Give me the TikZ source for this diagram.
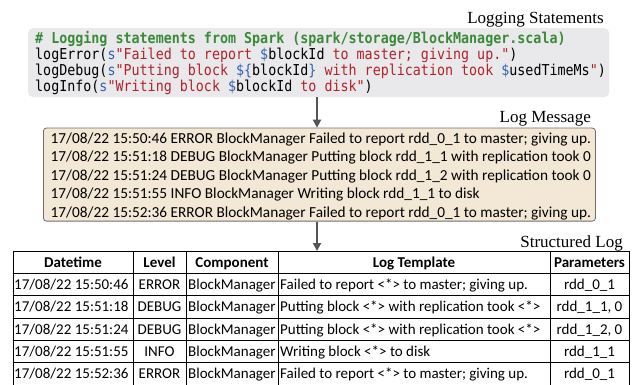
\documentclass[tikz,border=0pt]{standalone}
\usepackage{fontspec}
\setmainfont{Liberation Serif}
\newfontfamily\codefont[FakeStretch=0.89]{DejaVu Sans Mono}
\newfontfamily\calfont{Carlito}
\usetikzlibrary{arrows.meta}
\definecolor{cgreen}{HTML}{3A8A3A}
\definecolor{cblue}{HTML}{3362B0}
\definecolor{cred}{HTML}{B0232A}
\definecolor{codebg}{HTML}{E9E8EA}
\definecolor{logbg}{HTML}{F3E7D5}
\definecolor{logborder}{HTML}{6E6E6E}
\definecolor{arrowc}{HTML}{555555}
\newcommand{\cbl}[1]{\textcolor{cblue}{#1}}
\newcommand{\crd}[1]{\textcolor{cred}{#1}}
\begin{document}
\begin{tikzpicture}[x=1pt,y=-1pt,
  lbl/.style={inner sep=0pt,anchor=base east,font=\fontsize{17}{19}\selectfont},
  codeline/.style={inner sep=0pt,anchor=base west,font=\codefont\fontsize{15}{16}\selectfont},
  logline/.style={inner sep=0pt,anchor=base west,font=\calfont\fontsize{15.3}{17}\selectfont},
  cellL/.style={inner sep=0pt,anchor=base west,font=\calfont\fontsize{15}{17}\selectfont},
  cellC/.style={inner sep=0pt,anchor=base,font=\calfont\fontsize{15}{17}\selectfont},
  headC/.style={inner sep=0pt,anchor=base,font=\calfont\bfseries\fontsize{15}{17}\selectfont},
  flow/.style={draw=arrowc,line width=2.6pt,-{Triangle[length=8pt,width=8pt]}},
  tline/.style={draw=black,line width=0.9pt}]
\useasboundingbox (0,0) rectangle (634,385);

% boxes
\node[fill=codebg,rounded corners=5pt,inner sep=0pt,anchor=north west,minimum width=581pt,minimum height=69pt] (code) at (28,28) {};
\node[fill=logbg,draw=logborder,line width=0.8pt,rounded corners=3pt,inner sep=0pt,anchor=north west,minimum width=552pt,minimum height=93pt] (log) at (43,127.7) {};

% labels
\node[lbl] (lblA) at (604,24) {Logging Statements};
\node[lbl] (lblB) at (591,123) {Log Message};
\node[lbl] (lblC) at (623,247) {Structured Log};

% code
\node[codeline] (c1) at (35,43.5) {\bfseries\color{cgreen}\# Logging statements from Spark (spark/storage/BlockManager.scala)};
\node[codeline] (c2) at (35,59.5) {logError(\cbl{s}\crd{"Failed to report }\cbl{\$}blockId\crd{\ to master; giving up."})};
\node[codeline] (c3) at (35,75.5) {logDebug(\cbl{s}\crd{"Putting block }\cbl{\$\{}blockId\cbl{\}}\crd{\ with replication took }\cbl{\$}usedTimeMs\crd{"})};
\node[codeline] (c4) at (35,91.5) {logInfo(\cbl{s}\crd{"Writing block }\cbl{\$}blockId\crd{\ to disk"})};

% log lines
\node[logline] (m1) at (50.5,143) {17/08/22 15:50:46 ERROR BlockManager Failed to report rdd\_0\_1 to master; giving up.};
\node[logline] (m2) at (50.5,161.6) {17/08/22 15:51:18 DEBUG BlockManager Putting block rdd\_1\_1 with replication took 0};
\node[logline] (m3) at (50.5,180.2) {17/08/22 15:51:24 DEBUG BlockManager Putting block rdd\_1\_2 with replication took 0};
\node[logline] (m4) at (50.5,198.8) {17/08/22 15:51:55 INFO BlockManager Writing block rdd\_1\_1 to disk};
\node[logline] (m5) at (50.5,217.4) {17/08/22 15:52:36 ERROR BlockManager Failed to report rdd\_0\_1 to master; giving up.};

% table frame
\node[draw=black,line width=0.9pt,inner sep=0pt,anchor=north west,minimum width=616.3pt,minimum height=133.5pt] (tab) at (12.7,251) {};
\foreach \yy in {273.3,295.7,318,340.3,362.7} \draw[tline] (12.7,\yy) -- (629,\yy);
\foreach \xx in {133,186,278,550} \draw[tline] (\xx,251) -- (\xx,384.5);

% header
\node[headC] (h1) at (73,267) {Datetime};
\node[headC] (h2) at (159.5,267) {Level};
\node[headC] (h3) at (232,267) {Component};
\node[headC] (h4) at (414,267) {Log Template};
\node[headC] (h5) at (589.5,267) {Parameters};

% rows
\foreach \r/\d/\l/\t/\p [count=\i] in {
  289.5/15:50:46/ERROR/{Failed to report <*> to master; giving up.}/rdd\_0\_1,
  311.8/15:51:18/DEBUG/{Putting block <*> with replication took <*>}/{rdd\_1\_1, 0},
  334.2/15:51:24/DEBUG/{Putting block <*> with replication took <*>}/{rdd\_1\_2, 0},
  356.5/15:51:55/INFO/{Writing block <*> to disk}/rdd\_1\_1,
  378.8/15:52:36/ERROR/{Failed to report <*> to master; giving up.}/rdd\_0\_1}
{
  \node[cellL] (d\i) at (14,\r) {17/08/22 \d};
  \node[cellC] (v\i) at (159.5,\r) {\l};
  \node[cellL] (k\i) at (188,\r) {BlockManager};
  \node[cellL] (t\i) at (280,\r) {\t};
  \node[cellC] (p\i) at (589.5,\r) {\p};
}

% connectors
\coordinate (ax) at (317,0);
\draw[flow] (code.south -| ax) -- (log.north -| ax);
\draw[flow] (log.south -| ax) -- (tab.north -| ax);
\end{tikzpicture}
\end{document}
